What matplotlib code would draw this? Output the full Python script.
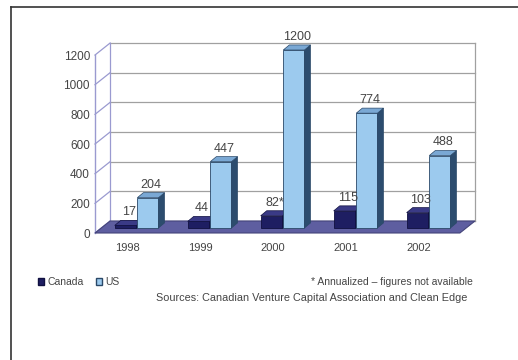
import matplotlib
matplotlib.use("Agg")
import matplotlib.pyplot as plt
from matplotlib.patches import Polygon, Patch
from matplotlib.lines import Line2D

years = ["1998", "1999", "2000", "2001", "2002"]
canada = [17, 44, 82, 115, 103]
us = [204, 447, 1200, 774, 488]
canada_labels = ["17", "44", "82*", "115", "103"]
us_labels = ["204", "447", "1200", "774", "488"]
yticks = [0, 200, 400, 600, 800, 1000, 1200]

plt.rcParams['font.family'] = ['Liberation Sans', 'DejaVu Sans']

fig = plt.figure(figsize=(5.18, 3.6), dpi=100)
ax = fig.add_axes([95/518, 1-233/360, 380/518, 192.8/360])

X0, X1 = -0.44, 4.56          # front floor edge (category units)
DX, DY = 0.207, 81            # floor depth (category units, value units)
BASE_X, BASE_Y = 0.0, 34      # bar front offset into the floor
BDX, BDY = 0.083, 34          # bar depth
ax.set_xlim(X0, X1 + DX)
ax.set_ylim(0, 1300)

grid_c = "#a0a0a0"
wall_c = "#9a9ad0"
# back wall gridlines and left wall diagonals
for v in yticks:
    ax.plot([X0 + DX, X1 + DX], [v + DY, v + DY], color=grid_c, lw=0.9, zorder=0.5, clip_on=False)
    ax.plot([X0, X0 + DX], [v, v + DY], color=wall_c, lw=0.9, zorder=0.5, clip_on=False)
ax.plot([X0 + DX, X0 + DX], [DY, yticks[-1] + DY], color=wall_c, lw=0.9, zorder=0.6, clip_on=False)
ax.plot([X1 + DX, X1 + DX], [DY, yticks[-1] + DY], color=grid_c, lw=0.9, zorder=0.6, clip_on=False)
ax.plot([X0, X0], [0, yticks[-1]], color=wall_c, lw=1.0, zorder=0.6, clip_on=False)

# floor
floor = Polygon([(X0, 0), (X1, 0), (X1 + DX, DY), (X0 + DX, DY)], closed=True,
                facecolor="#5e5ea0", edgecolor="#44447a", lw=0.8, zorder=1, clip_on=False)
ax.add_patch(floor)


def bar3d(xs, vals, width, front, side, top, edge, z):
    bars = ax.bar(xs, vals, width=width, bottom=BASE_Y, align='edge',
                  color=front, edgecolor=edge, linewidth=0.6, zorder=z)
    for b in bars:
        x0 = b.get_x()
        x1 = x0 + b.get_width()
        y0 = b.get_y()
        y1 = y0 + b.get_height()
        ax.add_patch(Polygon([(x1, y0), (x1 + BDX, y0 + BDY), (x1 + BDX, y1 + BDY), (x1, y1)],
                             closed=True, facecolor=side, edgecolor=edge, lw=0.5, zorder=z))
        ax.add_patch(Polygon([(x0, y1), (x1, y1), (x1 + BDX, y1 + BDY), (x0 + BDX, y1 + BDY)],
                             closed=True, facecolor=top, edgecolor=edge, lw=0.5, zorder=z))
    return bars


idx = list(range(len(years)))
cb = bar3d([i - 0.17 for i in idx], canada, 0.30, "#1e1e62", "#0c0c38", "#3a3a86", "#101040", 3)
ub = bar3d([i + 0.14 for i in idx], us, 0.29, "#9ccaee", "#2c4c6e", "#7aa8d4", "#2a4868", 4)

for bars, labels in ((cb, canada_labels), (ub, us_labels)):
    for b, lab in zip(bars, labels):
        xc = b.get_x() + b.get_width() / 2 + BDX / 2
        yt = b.get_y() + b.get_height() + BDY
        ax.annotate(lab, (xc, yt), xytext=(0, 1.5), textcoords="offset points",
                    ha="center", va="bottom", fontsize=9, color="#444444", zorder=6)

ax.set_xticks(idx)
ax.set_xticklabels(years, fontsize=8, color="#444444")
ax.set_yticks(yticks)
ax.set_yticklabels([str(v) for v in yticks], fontsize=8.5, color="#444444")
ax.tick_params(axis="x", length=0, pad=7)
ax.tick_params(axis="y", length=0, pad=3.6)
for s in ax.spines.values():
    s.set_visible(False)
ax.patch.set_alpha(0)

handles = [Patch(facecolor="#1e1e62", edgecolor="#101040", label="Canada"),
           Patch(facecolor="#9ccaee", edgecolor="#2a4868", label="US")]
fig.legend(handles=handles, loc="center left", bbox_to_anchor=(38/518, 1-282/360),
           ncol=2, frameon=False, fontsize=7.5, handlelength=0.6, handleheight=0.6,
           handletextpad=0.3, columnspacing=1.2, borderpad=0, borderaxespad=0,
           labelcolor="#444444")
fig.text(473/518, 1-282/360, "* Annualized – figures not available", ha="right", va="center",
         fontsize=7.5, color="#444444")
fig.text(312/518, 1-298/360, "Sources: Canadian Venture Capital Association and Clean Edge",
         ha="center", va="center", fontsize=7.8, color="#444444")

# border
fig.add_artist(Line2D([11/518, 11/518], [0, 1-7/360], transform=fig.transFigure,
                      color="#333333", lw=1.2))
fig.add_artist(Line2D([11/518, 1], [1-7/360, 1-7/360], transform=fig.transFigure,
                      color="#333333", lw=1.2))

fig.savefig("out.png", dpi=100)
